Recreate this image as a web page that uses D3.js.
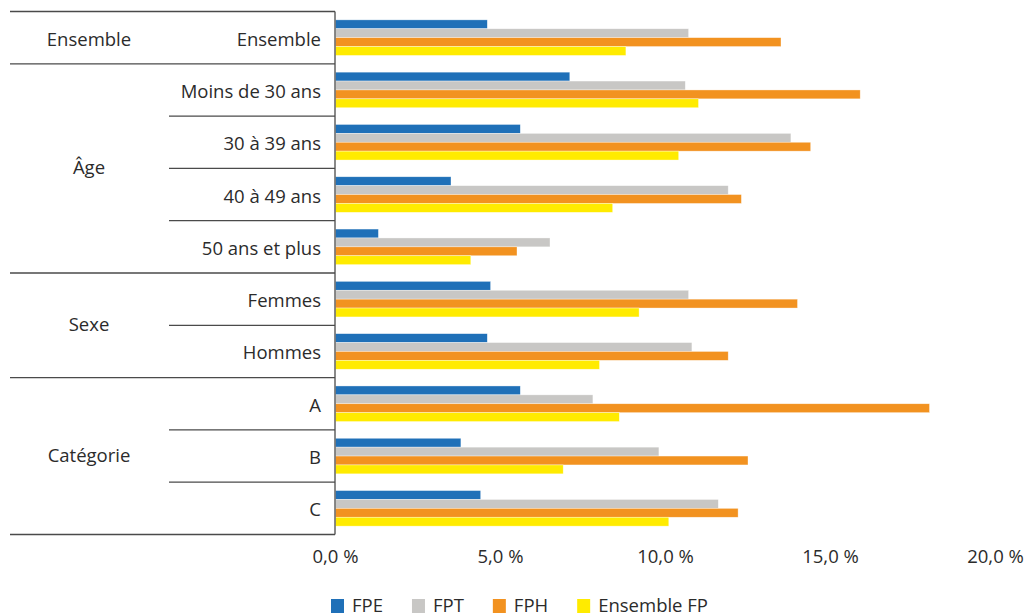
<!DOCTYPE html>
<html>
<head>
<meta charset="utf-8">
<script src="https://cdn.jsdelivr.net/npm/d3@7"></script>
<style>
  html, body { margin: 0; padding: 0; background: #fff; }
  svg text { font-family: "Open Sans", "Noto Sans", sans-serif; fill: #2b2b2b; }
</style>
</head>
<body>
<svg id="chart" width="1028" height="616"></svg>
<script>
// ---- Data ----
const categories = ["Ensemble", "Moins de 30 ans", "30 à 39 ans", "40 à 49 ans", "50 ans et plus",
                    "Femmes", "Hommes", "A", "B", "C"];
const groupNames = ["Ensemble", "Âge", "Sexe", "Catégorie"];
const groupSizes = [1, 4, 2, 3];
const seriesNames = ["FPE", "FPT", "FPH", "Ensemble FP"];
const fpe = [4.6, 7.1, 5.6, 3.5, 1.3, 4.7, 4.6, 5.6, 3.8, 4.4];
const fpt = [10.7, 10.6, 13.8, 11.9, 6.5, 10.7, 10.8, 7.8, 9.8, 11.6];
const fph = [13.5, 15.9, 14.4, 12.3, 5.5, 14.0, 11.9, 18.0, 12.5, 12.2];
const efp = [8.8, 11.0, 10.4, 8.4, 4.1, 9.2, 8.0, 8.6, 6.9, 10.1];
const xTicks = [0, 5, 10, 15, 20];

const seriesValues = [fpe, fpt, fph, efp];
const colors = ["#1f70b8", "#c8c7c5", "#f29220", "#ffeb00"];

// ---- Layout ----
const svg = d3.select("#chart");
const axisX = 335, topY = 11.5, bottomY = 534.5, leftEdge = 10, subLeft = 169;
const fontSize = 18.5;

const x = d3.scaleLinear().domain([0, 20]).range([axisX, 995]);
const yRow = d3.scaleBand().domain(categories).range([topY, bottomY]).padding(0);
const ySer = d3.scaleBand().domain(seriesNames).range([0, yRow.bandwidth()]).paddingInner(0).paddingOuter(0.94);
const color = d3.scaleOrdinal().domain(seriesNames).range(colors);

const table = categories.map((c, i) => ({ cat: c, vals: seriesNames.map((s, j) => ({ s, v: seriesValues[j][i] })) }));

// Bars
const rowsG = svg.append("g").selectAll("g").data(table).join("g")
  .attr("transform", d => `translate(0,${yRow(d.cat)})`);
rowsG.selectAll("rect").data(d => d.vals).join("rect")
  .attr("x", x(0) + 0.5)
  .attr("y", d => ySer(d.s))
  .attr("width", d => x(d.v) - x(0))
  .attr("height", ySer.bandwidth())
  .attr("fill", d => color(d.s))
  .attr("stroke", "rgba(255,255,255,0.6)")
  .attr("stroke-width", 0.6);

// Table lines
const lineColor = "#4a4a4a";
const lines = svg.append("g").attr("stroke", lineColor).attr("stroke-width", 1.3);
let idx = 0;
const groupStarts = [];
groupSizes.forEach(n => { groupStarts.push(idx); idx += n; });
categories.forEach((c, i) => {
  const isGroupStart = groupStarts.includes(i);
  lines.append("line")
    .attr("x1", isGroupStart ? leftEdge : subLeft).attr("x2", axisX)
    .attr("y1", yRow(c)).attr("y2", yRow(c));
});
lines.append("line").attr("x1", leftEdge).attr("x2", axisX).attr("y1", bottomY).attr("y2", bottomY);
lines.append("line").attr("x1", axisX).attr("x2", axisX).attr("y1", topY).attr("y2", bottomY);

// Row labels
svg.append("g").selectAll("text").data(categories).join("text")
  .attr("x", 321)
  .attr("y", d => yRow(d) + yRow.bandwidth() / 2 + 8)
  .attr("text-anchor", "end")
  .attr("font-size", fontSize)
  .text(d => d);

// Group labels
svg.append("g").selectAll("text").data(groupNames).join("text")
  .attr("x", 89)
  .attr("y", (d, i) => {
    const y0 = yRow(categories[groupStarts[i]]);
    const y1 = y0 + groupSizes[i] * yRow.step();
    return (y0 + y1) / 2 + (groupSizes[i] === 1 ? 8 : 6);
  })
  .attr("text-anchor", "middle")
  .attr("font-size", fontSize)
  .text(d => d);

// X axis
const fmt = d => d.toFixed(1).replace(".", ",") + " %";
const xAxis = svg.append("g").attr("transform", `translate(0,${bottomY})`)
  .call(d3.axisBottom(x).tickValues(xTicks).tickSize(0).tickFormat(fmt));
xAxis.select(".domain").remove();
xAxis.selectAll("text")
  .attr("y", 28.5).attr("dy", 0)
  .attr("font-size", fontSize)
  .attr("font-family", "'Open Sans', 'Noto Sans', sans-serif")
  .attr("fill", "#2b2b2b");

// Legend
const legend = svg.append("g");
let lx = 331;
seriesNames.forEach(s => {
  legend.append("rect").attr("x", lx).attr("y", 599).attr("width", 13).attr("height", 14).attr("fill", color(s));
  const t = legend.append("text").attr("x", lx + 21).attr("y", 612).attr("font-size", fontSize).text(s);
  lx += 21 + t.node().getComputedTextLength() + 29;
});
</script>
</body>
</html>
